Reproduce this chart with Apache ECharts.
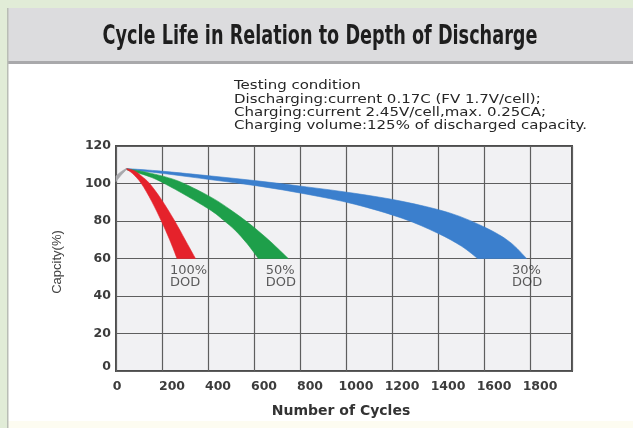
<!DOCTYPE html>
<html>
<head>
<meta charset="utf-8">
<script src="https://cdn.jsdelivr.net/npm/echarts@6/dist/echarts.min.js"></script>
<style>
  html, body { margin: 0; padding: 0; background: #e1ecd7; }
  #chart { width: 633px; height: 428px; }
</style>
</head>
<body>
<div id="chart"></div>
<script>
// Axis ticks
const xTicks = [0, 200, 400, 600, 800, 1000, 1200, 1400, 1600, 1800];
const yTicks = [0, 20, 40, 60, 80, 100, 120];

// Initial rise common to every depth of discharge: [cycles, capacity %]
const startUpper = [[0, 104], [22, 106.3], [45, 108]];
const startLower = [[0, 101], [22, 104.4], [45, 107.4]];

// 100% DOD band edges
const redOuter = [[45, 108], [83, 106.6], [114, 103.6], [146, 100], [197, 91.5], [255, 80], [300, 70], [345, 60]];
const redInner = [[45, 107.6], [72, 105.3], [110, 100], [155, 90.5], [197, 80], [233, 70], [265, 60]];

// 50% DOD band edges
const greenOuter = [[45, 107.8], [103, 106.7], [207, 103.8], [290, 100.3], [414, 92.6], [497, 86], [580, 78.5], [662, 70], [714, 64], [748, 60]];
const greenInner = [[45, 107.4], [103, 105.4], [155, 103.2], [210, 100], [310, 93.2], [414, 85.5], [466, 80.5], [518, 75], [569, 68], [618, 60]];

// 30% DOD band edges
const blueOuter = [[45, 108], [207, 106.5], [414, 104], [621, 101.3], [828, 98.2], [1035, 94.8], [1242, 90.5], [1449, 84.3], [1604, 76.5], [1708, 69], [1783, 60]];
const blueInner = [[45, 107.5], [207, 105.3], [414, 102], [621, 98.6], [828, 94.3], [1035, 89], [1242, 81.5], [1397, 73.5], [1501, 66.5], [1570, 60]];

// Band annotations
const dodNames = ['100%\nDOD', '50%\nDOD', '30%\nDOD'];
const dodAnchors = [[234, 56.7], [650, 56.7], [1719, 56.7]];

const titleText = 'Cycle Life in Relation to Depth of Discharge';
const conditionLines = [
  'Testing condition',
  'Discharging:current 0.17C (FV 1.7V/cell);',
  'Charging:current 2.45V/cell,max. 0.25CA;',
  'Charging volume:125% of discharged capacity.'
];

const measureCtx = document.createElement('canvas').getContext('2d');
function textWidth(text, font) {
  measureCtx.font = font;
  return measureCtx.measureText(text).width;
}

// Smooth curve through pixel points (Catmull-Rom as cubic Bezier segments)
function splineSegments(pts) {
  let d = '';
  for (let i = 0; i < pts.length - 1; i++) {
    const p0 = pts[Math.max(i - 1, 0)];
    const p1 = pts[i];
    const p2 = pts[i + 1];
    const p3 = pts[Math.min(i + 2, pts.length - 1)];
    const c1x = p1[0] + (p2[0] - p0[0]) / 6, c1y = p1[1] + (p2[1] - p0[1]) / 6;
    const c2x = p2[0] - (p3[0] - p1[0]) / 6, c2y = p2[1] - (p3[1] - p1[1]) / 6;
    d += ' C' + c1x + ' ' + c1y + ' ' + c2x + ' ' + c2y + ' ' + p2[0] + ' ' + p2[1];
  }
  return d;
}

function bandSeries(name, outer, inner, color) {
  return {
    type: 'custom',
    name: name,
    xAxisIndex: 0,
    yAxisIndex: 0,
    silent: true,
    data: [[0, 0]],
    renderItem: function (params, api) {
      const up = outer.map(p => api.coord(p));
      const lo = inner.map(p => api.coord(p)).reverse();
      let d = 'M' + up[0][0] + ' ' + up[0][1];
      d += splineSegments(up);
      d += ' L' + lo[0][0] + ' ' + lo[0][1];
      d += splineSegments(lo);
      d += ' Z';
      return {
        type: 'path',
        shape: { pathData: d },
        style: { fill: color, stroke: color, lineWidth: 0.6 }
      };
    }
  };
}

const chart = echarts.init(document.getElementById('chart'), null, { renderer: 'canvas' });

const titleFont = 'bold 26px "DejaVu Sans"';
const titleScale = 435 / textWidth(titleText, titleFont);
const condFont = '12px "DejaVu Sans"';
const condScale = 353 / textWidth(conditionLines[3], condFont);

const tickFont = { fontFamily: 'DejaVu Sans', fontWeight: 'bold', fontSize: 12.5, color: '#3c3c3c' };

const option = {
  animation: false,
  backgroundColor: 'transparent',
  graphic: [
    { type: 'rect', z: -20, shape: { x: 0, y: 0, width: 633, height: 428 }, style: { fill: '#e1ecd7' } },
    { type: 'rect', z: -19, shape: { x: 8, y: 8, width: 625, height: 56 }, style: { fill: '#dcdcde' } },
    { type: 'rect', z: -19, shape: { x: 8, y: 61, width: 625, height: 3 }, style: { fill: '#a9a9ab' } },
    { type: 'rect', z: -19, shape: { x: 8, y: 64, width: 625, height: 364 }, style: { fill: '#ffffff' } },
    { type: 'rect', z: -19, shape: { x: 8, y: 421, width: 625, height: 7 }, style: { fill: '#fdfcf1' } },
    { type: 'rect', z: -18, shape: { x: 7, y: 8, width: 1.5, height: 420 }, style: { fill: '#b9bdb5' } },
    {
      type: 'text', z: 10, x: 320, y: 37, scaleX: titleScale,
      style: { text: titleText, font: titleFont, fill: '#1e1e1e', align: 'center', verticalAlign: 'middle' }
    },
    {
      type: 'group', z: 10, x: 234, y: 86,
      children: conditionLines.map((t, i) => ({
        type: 'text', x: 0, y: i * 13.4, scaleX: condScale,
        style: { text: t, font: condFont, fill: '#262626', align: 'left', verticalAlign: 'middle' }
      }))
    },
    {
      type: 'text', z: 10, x: 57, y: 262, rotation: Math.PI / 2,
      style: { text: 'Capcity(%)', font: '13px "Liberation Sans"', fill: '#444444', align: 'center', verticalAlign: 'middle' }
    },
    {
      type: 'text', z: 10, x: 341, y: 411,
      style: { text: 'Number of Cycles', font: 'bold 14px "DejaVu Sans"', fill: '#333333', align: 'center', verticalAlign: 'middle' }
    }
  ],
  grid: {
    left: 116, right: 61, top: 146, bottom: 57,
    show: true, backgroundColor: '#f1f1f3', borderColor: '#4d4d4d', borderWidth: 2
  },
  xAxis: [
    {
      type: 'value', min: 0, max: 1980, interval: 200,
      axisLine: { show: false }, axisTick: { show: false }, axisLabel: { show: false },
      splitLine: { show: true, lineStyle: { color: '#5e5e5e', width: 1.2 } }
    },
    {
      // tick labels sit slightly right of the grid lines
      type: 'value', min: -43.5, max: 1939, position: 'bottom',
      axisLine: { show: false }, axisTick: { show: false }, splitLine: { show: false },
      axisLabel: {
        customValues: xTicks, margin: 9, ...tickFont,
        formatter: v => (v === 0 ? '{z|0}' : String(v)),
        rich: { z: { ...tickFont, padding: [0, 18, 0, 0] } }
      }
    }
  ],
  yAxis: [
    {
      type: 'value', min: 0, max: 120, interval: 20,
      axisLine: { show: false }, axisTick: { show: false },
      axisLabel: {
        margin: 5, ...tickFont,
        formatter: v => (v === 0 ? '{z|0}' : String(v)),
        rich: { z: { ...tickFont, padding: [0, 0, 8, 0] } }
      },
      splitLine: { show: true, lineStyle: { color: '#5e5e5e', width: 1.2 } }
    }
  ],
  series: [
    bandSeries('30% DOD', blueOuter, blueInner, '#3b7fcd'),
    bandSeries('50% DOD', greenOuter, greenInner, '#1e9f4a'),
    bandSeries('100% DOD', redOuter, redInner, '#e5222b'),
    bandSeries('start', startUpper, startLower, '#a8a8ac'),
    {
      type: 'scatter',
      silent: true,
      symbolSize: 0,
      data: dodAnchors.map((p, i) => ({ value: p, name: dodNames[i] })),
      label: {
        show: true,
        position: [0, 0],
        align: 'left',
        verticalAlign: 'top',
        formatter: p => p.name,
        fontFamily: 'DejaVu Sans',
        fontSize: 13,
        lineHeight: 12,
        color: '#333333'
      }
    }
  ]
};

chart.setOption(option);
</script>
</body>
</html>
